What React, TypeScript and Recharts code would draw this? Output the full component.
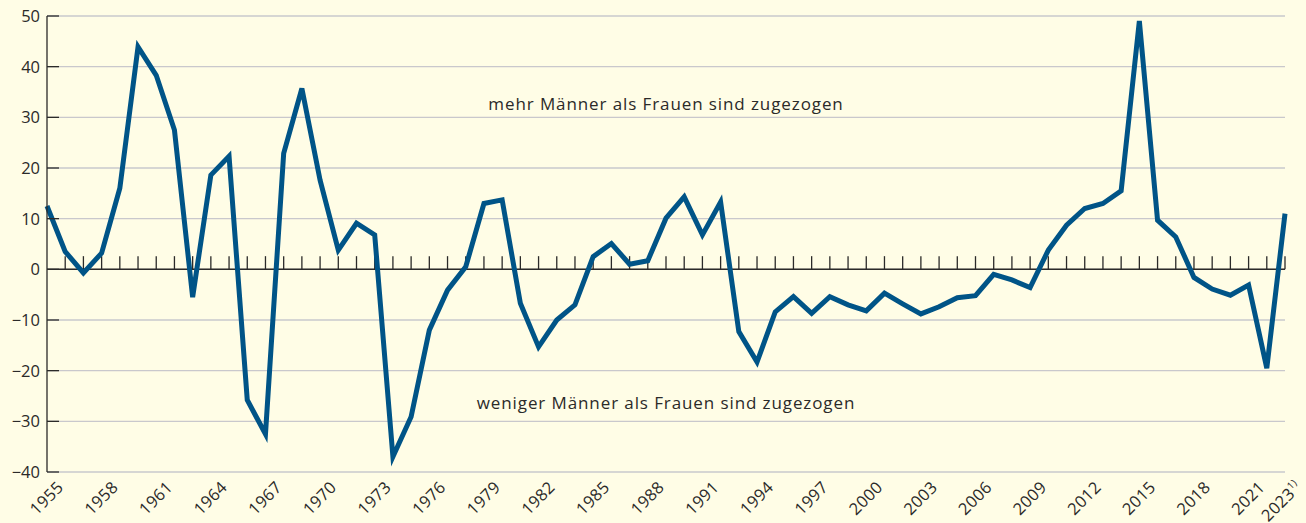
import React from "react"
import {
  LineChart,
  Line,
  XAxis,
  YAxis,
  CartesianGrid,
  ReferenceLine,
} from "recharts"

const years = [
  1955, 1956, 1957, 1958, 1959, 1960, 1961, 1962, 1963, 1964, 1965, 1966,
  1967, 1968, 1969, 1970, 1971, 1972, 1973, 1974, 1975, 1976, 1977, 1978,
  1979, 1980, 1981, 1982, 1983, 1984, 1985, 1986, 1987, 1988, 1989, 1990,
  1991, 1992, 1993, 1994, 1995, 1996, 1997, 1998, 1999, 2000, 2001, 2002,
  2003, 2004, 2005, 2006, 2007, 2008, 2009, 2010, 2011, 2012, 2013, 2014,
  2015, 2016, 2017, 2018, 2019, 2020, 2021, 2022, 2023,
]

// Männerüberschuss bei den Zuzügen (in Tausend)
const values = [
  12.5, 3.5, -0.7, 3.2, 16.0, 43.9, 38.3, 27.5, -5.5, 18.6, 22.3, -25.8,
  -32.5, 22.9, 35.7, 17.6, 3.8, 9.1, 6.8, -37.0, -29.1, -12.0, -4.1, 0.5,
  13.0, 13.7, -6.7, -15.3, -10.0, -7.0, 2.5, 5.1, 1.0, 1.7, 10.1, 14.3,
  6.8, 13.3, -12.3, -18.3, -8.4, -5.4, -8.7, -5.4, -7.0, -8.2, -4.7, -6.8,
  -8.8, -7.4, -5.6, -5.2, -1.0, -2.1, -3.6, 3.8, 8.7, 12.0, 13.0, 15.5,
  49.0, 9.7, 6.4, -1.6, -3.9, -5.1, -3.1, -19.5, 11.0,
]

const xTicks = [
  1955, 1958, 1961, 1964, 1967, 1970, 1973, 1976, 1979, 1982, 1985, 1988,
  1991, 1994, 1997, 2000, 2003, 2006, 2009, 2012, 2015, 2018, 2021, 2023,
]
const yTicks = [-40, -30, -20, -10, 0, 10, 20, 30, 40, 50]

const upperNote = "mehr Männer als Frauen sind zugezogen"
const lowerNote = "weniger Männer als Frauen sind zugezogen"

const data = years.map((year, i) => ({ year, value: values[i] }))

const BG = "#fffde6"
const INK = "#2b2a29"
const BLUE = "#005487"
const FONT = "'Open Sans', 'Noto Sans', sans-serif"

function YTick({ x, y, payload }: any) {
  const v = payload.value as number
  const label = v < 0 ? "\u2212" + Math.abs(v) : String(v)
  return (
    <g>
      <line x1={x + 6} x2={x + 18} y1={y} y2={y} stroke={INK} strokeWidth={1.3} />
      <text
        x={x - 1}
        y={y}
        dy="0.36em"
        textAnchor="end"
        fill={INK}
        fontSize={16.5}
        fontFamily={FONT}
      >
        {label}
      </text>
    </g>
  )
}

function XTick({ x, y, payload }: any) {
  const v = payload.value as number
  const px = x + 9
  const py = y + 8
  return (
    <text
      x={px}
      y={py}
      dy="0.72em"
      textAnchor="end"
      fill={INK}
      fontSize={16.5}
      letterSpacing={0.3}
      fontFamily={FONT}
      transform={`rotate(-45, ${px}, ${py})`}
    >
      {v}
      {v === 2023 ? (
        <tspan fontSize={10} dy="-0.7em">
          1)
        </tspan>
      ) : null}
    </text>
  )
}

export default function App() {
  return (
    <div style={{ width: 1306, height: 523, background: BG, overflow: "hidden" }}>
      <style>{`body{margin:0;background:${BG}}`}</style>
      <LineChart
        width={1306}
        height={523}
        data={data}
        margin={{ top: 16, right: 21, bottom: 0, left: 0 }}
      >
        <CartesianGrid vertical={false} stroke="#c9c8cc" strokeWidth={1.3} />
        <XAxis
          dataKey="year"
          type="number"
          domain={[1955, 2023]}
          ticks={xTicks}
          interval={0}
          axisLine={false}
          tickLine={false}
          tickSize={0}
          tickMargin={0}
          height={51}
          tick={<XTick />}
        />
        <YAxis
          domain={[-40, 50]}
          ticks={yTicks}
          interval={0}
          width={47}
          axisLine={{ stroke: INK, strokeWidth: 1.3 }}
          tickLine={false}
          tickSize={0}
          tickMargin={6}
          tick={<YTick />}
        />
        <ReferenceLine y={0} stroke={INK} strokeWidth={1.5} />
        {years.slice(1).map((yr) => (
          <ReferenceLine
            key={yr}
            segment={[
              { x: yr, y: 0 },
              { x: yr, y: 2.6 },
            ]}
            stroke={INK}
            strokeWidth={1.3}
          />
        ))}
        <ReferenceLine
          y={32.6}
          stroke="none"
          label={{
            value: upperNote,
            position: "center",
            fill: INK,
            fontSize: 17,
            letterSpacing: 0.9,
            fontFamily: FONT,
          }}
        />
        <ReferenceLine
          y={-26.3}
          stroke="none"
          label={{
            value: lowerNote,
            position: "center",
            fill: INK,
            fontSize: 17,
            letterSpacing: 0.9,
            fontFamily: FONT,
          }}
        />
        <Line
          type="linear"
          dataKey="value"
          stroke={BLUE}
          strokeWidth={5}
          dot={false}
          activeDot={false}
          isAnimationActive={false}
        />
      </LineChart>
    </div>
  )
}
